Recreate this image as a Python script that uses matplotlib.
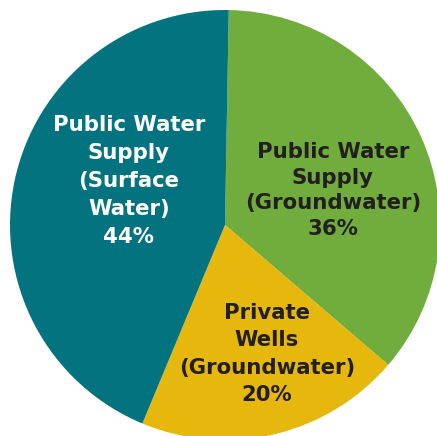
import matplotlib.pyplot as plt

# parts du total, dans l'ordre horaire depuis le haut
sources = ["Public Water\nSupply\n(Groundwater)", "Private\nWells\n(Groundwater)", "Public Water\nSupply\n(Surface\nWater)"]
parts = [36, 20, 44]
couleurs = ["#70ad3c", "#e6b80d", "#03737f"]
couleurs_texte = ["#231f20", "#231f20", "#ffffff"]

fig = plt.figure(figsize=(4.37, 4.36), dpi=100)
ax = fig.add_axes([10 / 437, -4 / 436, 430 / 437, 430 / 436])

wedges, _ = ax.pie(parts, colors=couleurs, startangle=89, counterclock=False,
                   radius=1, wedgeprops={"linewidth": 0})
ax.set_xlim(-1, 1)
ax.set_ylim(-1, 1)
ax.set_aspect("equal")
ax.axis("off")

# position des etiquettes (centre de chaque bloc de texte) et interligne
positions = [(0.502, 0.16), (0.195, -0.60), (-0.447, 0.205)]
interlignes = [1.35, 1.44, 1.5]
for nom, val, c, (x, y), il in zip(sources, parts, couleurs_texte, positions, interlignes):
    ax.text(x, y, f"{nom}\n{val}%", ha="center", va="center", color=c,
            fontsize=15.3, fontweight="bold", family="DejaVu Sans", linespacing=il)

fig.savefig("out.png", dpi=100)
